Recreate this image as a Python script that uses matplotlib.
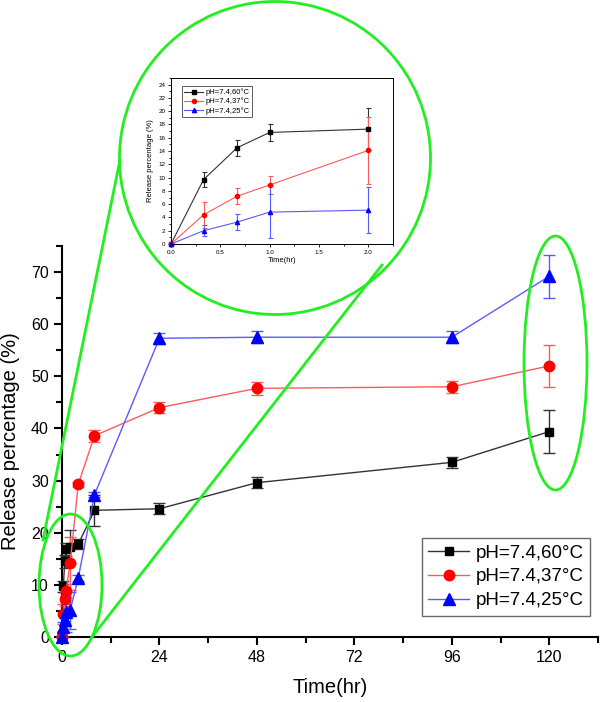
import matplotlib
matplotlib.use("Agg")
import matplotlib.pyplot as plt
from matplotlib.patches import Ellipse
from matplotlib.lines import Line2D
from matplotlib.ticker import MultipleLocator

plt.rcParams['font.family'] = ['Liberation Sans', 'DejaVu Sans']

# ---- data ----
time_hr = [0, 0.33, 0.67, 1, 2, 4, 8, 24, 48, 96, 120]
rel_60 = [0, 9.7, 14.5, 16.8, 17.3, 17.8, 24.3, 24.6, 29.6, 33.5, 39.4]
err_60 = [0, 1.1, 1.2, 1.3, 3.2, 1.0, 3.0, 1.1, 1.1, 1.1, 4.1]
rel_37 = [0, 4.4, 7.2, 8.9, 14.1, 29.3, 38.6, 44.0, 47.7, 48.0, 52.0]
err_37 = [0, 2.0, 1.2, 1.3, 5.0, 0.5, 1.1, 1.1, 1.2, 1.2, 4.1]
rel_25 = [0, 2.0, 3.3, 4.8, 5.1, 11.3, 27.3, 57.3, 57.5, 57.5, 69.2]
err_25 = [0, 0.8, 1.2, 3.9, 3.5, 0.5, 0.5, 1.1, 1.1, 1.1, 4.1]
labels = ['pH=7.4,60°C', 'pH=7.4,37°C', 'pH=7.4,25°C']
n_inset = 5  # first points (0-2 hr) shown in the inset

series = [
    (rel_60, err_60, 's', 'black', '#333333', 6),
    (rel_37, err_37, 'o', 'red', '#ff5a5a', 7.5),
    (rel_25, err_25, '^', 'blue', '#5a5aff', 8),
]

W, H = 600, 702
fig = plt.figure(figsize=(W / 100, H / 100), dpi=100)

# ---- main axes ----
ax = fig.add_axes([62 / W, 1 - 637 / H, 536 / W, 391 / H])
handles = []
for (y, e, m, mc, lc, ms), lab in zip(series, labels):
    ax.errorbar(time_hr, y, yerr=e, fmt='-', color=lc, lw=1, ecolor=lc,
                elinewidth=1, capsize=4, capthick=1,
                marker=m, markersize=ms, markerfacecolor=mc,
                markeredgecolor=mc, clip_on=False, zorder=3)
    handles.append(Line2D([], [], color=lc, lw=1, marker=m, markersize=ms,
                          markerfacecolor=mc, markeredgecolor=mc, label=lab))
ax.set_xlim(0, 132)
ax.set_ylim(0, 75)
ax.xaxis.set_major_locator(MultipleLocator(24))
ax.xaxis.set_minor_locator(MultipleLocator(12))
ax.yaxis.set_major_locator(MultipleLocator(10))
ax.yaxis.set_minor_locator(MultipleLocator(5))
for s in ['top', 'right']:
    ax.spines[s].set_visible(False)
for s in ['left', 'bottom']:
    ax.spines[s].set_linewidth(1.5)
ax.tick_params(which='major', direction='out', length=6, width=1.5, labelsize=11.5)
ax.tick_params(which='minor', direction='out', length=4, width=1.5)
ax.set_xlabel('Time(hr)', fontsize=14.5, labelpad=9)
ax.set_ylabel('Release percentage (%)', fontsize=14.5, labelpad=8)
leg = ax.legend(handles=handles, loc='lower right', bbox_to_anchor=(0.993, 0.045),
                fontsize=13.5, frameon=True, fancybox=False, edgecolor='#444444',
                handlelength=2.2, handletextpad=0.35, labelspacing=0.35,
                borderpad=0.35, borderaxespad=0.2)
leg.get_frame().set_linewidth(1)

# ---- inset axes ----
axi = fig.add_axes([171 / W, 1 - 244 / H, 222 / W, 166 / H])
ihandles = []
for (y, e, m, mc, lc, ms), lab in zip(series, labels):
    axi.errorbar(time_hr[:n_inset], y[:n_inset], yerr=e[:n_inset], fmt='-',
                 color=lc, lw=0.8, ecolor=lc, elinewidth=0.8, capsize=1.8,
                 capthick=0.8, marker=m, markersize=3, markerfacecolor=mc,
                 markeredgecolor=mc, clip_on=False)
    ihandles.append(Line2D([], [], color=lc, lw=0.8, marker=m, markersize=3,
                           markerfacecolor=mc, markeredgecolor=mc, label=lab))
axi.set_xlim(0, 2.25)
axi.set_ylim(0, 25)
axi.xaxis.set_major_locator(MultipleLocator(0.5))
axi.xaxis.set_minor_locator(MultipleLocator(0.25))
axi.yaxis.set_major_locator(MultipleLocator(2))
axi.yaxis.set_minor_locator(MultipleLocator(1))
axi.xaxis.set_major_formatter(plt.FormatStrFormatter('%.1f'))
for s in axi.spines.values():
    s.set_linewidth(0.7)
axi.tick_params(which='major', direction='out', length=2.5, width=0.6, labelsize=4.5, pad=1.5)
axi.tick_params(which='minor', direction='out', length=1.5, width=0.6)
axi.set_xlabel('Time(hr)', fontsize=5.5, labelpad=2)
axi.set_ylabel('Release percentage (%)', fontsize=5.5, labelpad=3)
li = axi.legend(handles=ihandles, loc='upper left', bbox_to_anchor=(0.05, 0.95),
                fontsize=5.5, frameon=True, fancybox=False,
                edgecolor='#333333', handlelength=2.4, handletextpad=0.4,
                labelspacing=0.2, borderpad=0.3, borderaxespad=0)
li.get_frame().set_linewidth(0.7)

# ---- green highlight overlay (pixel coordinates) ----
ov = fig.add_axes([0, 0, 1, 1], zorder=10)
ov.set_xlim(0, W)
ov.set_ylim(H, 0)
ov.axis('off')
ov.patch.set_alpha(0)
g = '#22ee22'
for cx, cy, w, h in [(275, 158, 311, 313), (70.5, 585, 63, 142), (555.5, 363, 63, 254)]:
    ov.add_patch(Ellipse((cx, cy), w, h, fill=False, edgecolor=g, lw=2))
ov.plot([120, 43], [160, 540], color=g, lw=2)
ov.plot([92, 382], [637, 265], color=g, lw=2)

fig.savefig('out.png', dpi=100)
